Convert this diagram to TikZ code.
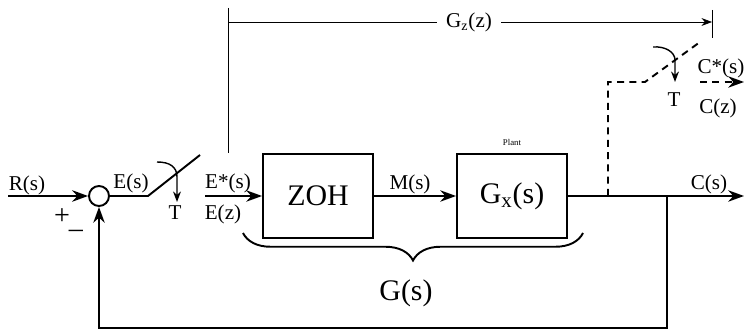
\documentclass[tikz,border=0pt]{standalone}
\usepackage{fontspec}
\setmainfont{Liberation Serif}
\usetikzlibrary{calc,decorations.pathreplacing,arrows.meta}

\begin{document}
\begin{tikzpicture}[>={Stealth[length=9pt,width=6.5pt]},
    sig/.style={line width=1.1pt},
    kis/.style={-{Stealth[length=6pt,width=4.5pt]}},
    lbl/.style={font=\fontsize{12}{14}\selectfont, inner sep=1pt},
    blokk/.style={draw, line width=1.1pt, minimum width=2.2cm, minimum height=1.68cm, font=\fontsize{17}{20}\selectfont}]
    \useasboundingbox (0,0) rectangle (14.9,6.64);

    % Blokkok
    \node[draw, circle, line width=1.1pt, minimum size=0.4cm, inner sep=0pt] (sum) at (1.98,2.72) {};
    \node[blokk] (zoh) at (6.36,2.72) {ZOH};
    \node[blokk] (plant) at (10.24,2.72) {G\textsubscript{x}(s)};
    \node[font=\fontsize{5}{6}\selectfont] (plantlbl) at (10.24,3.8) {Plant};

    % Pontok
    \coordinate (rin) at (0.16,2.72);
    \coordinate (sw1) at (2.96,2.72);
    \coordinate (sw1top) at (4.0,3.54);
    \coordinate (ein) at (4.1,2.72);
    \coordinate (branch) at (12.16,2.72);
    \coordinate (fb) at (13.34,2.72);
    \coordinate (fbbot) at (13.34,0.08);
    \coordinate (cout) at (14.88,2.72);
    \coordinate (bend) at (12.16,5.0);
    \coordinate (sw2) at (12.9,5.0);
    \coordinate (sw2top) at (14.0,5.8);
    \coordinate (czin) at (14.0,5.0);
    \coordinate (czout) at (14.88,5.0);

    % Jelutak
    \draw[sig, line width=1.5pt, ->] (rin) -- (sum);
    \draw[sig] (sum) -- (sw1) -- (sw1top);
    \draw[sig, ->] (ein) -- (zoh);
    \draw[sig, ->] (zoh) -- (plant);
    \draw[sig, ->] (plant) -- (cout);
    \draw[sig, ->] (fb) -- (fbbot) -| (sum);

    % Mintavevok
    \draw[thick, kis] (3.14,3.4) .. controls (3.4,3.4) and (3.54,3.3) .. (3.54,3.1) -- (3.54,2.6);
    \draw[sig, dash pattern=on 4pt off 3pt] (branch) -- (bend) -- (sw2) -- (sw2top);
    \draw[sig, dash pattern=on 4pt off 3pt, ->] (czin) -- (czout);
    \draw[thick, kis] (13.06,5.7) .. controls (13.3,5.72) and (13.5,5.6) .. (13.5,5.44) -- (13.5,5.0);

    % Gz(z) meret
    \node[lbl, inner sep=5pt] (gz) at (9.38,6.2) {G\textsubscript{z}(z)};
    \coordinate (gztop) at (4.56,6.48);
    \coordinate (gzbot) at (4.56,3.58);
    \coordinate (gzl) at (4.56,6.2);
    \coordinate (gzr) at (14.24,6.2);
    \draw[thin] (gztop) -- (gzbot);
    \draw[thin] (gzl) -- (gz);
    \draw[thin, kis] (gz) -- (gzr);
    \draw[thin] (14.24,6.44) -- (14.24,5.88);

    % Kapcsos zarojel
    \draw[sig, decorate, decoration={brace, mirror, amplitude=0.55cm}] (4.86,1.98) -- (11.66,1.98);
    \node[font=\fontsize{17}{20}\selectfont] (gs) at (8.12,0.78) {G(s)};

    % Feliratok
    \node[lbl] (rs) at (0.54,2.94) {R(s)};
    \node[font=\fontsize{16}{18}\selectfont, inner sep=0pt] (plus) at (1.24,2.3) {+};
    \node[font=\fontsize{16}{18}\selectfont, inner sep=0pt] (minus) at (1.52,1.96) {--};
    \node[lbl] (es) at (2.62,2.98) {E(s)};
    \node[lbl] (t1) at (3.5,2.38) {T};
    \node[lbl] (estar) at (4.56,2.98) {E*(s)};
    \node[lbl] (ez) at (4.46,2.36) {E(z)};
    \node[lbl] (ms) at (8.2,2.96) {M(s)};
    \node[lbl] (cs) at (14.18,2.96) {C(s)};
    \node[lbl] (cstar) at (14.42,5.28) {C*(s)};
    \node[lbl] (cz) at (14.36,4.48) {C(z)};
    \node[lbl] (t2) at (13.48,4.64) {T};
\end{tikzpicture}
\end{document}
